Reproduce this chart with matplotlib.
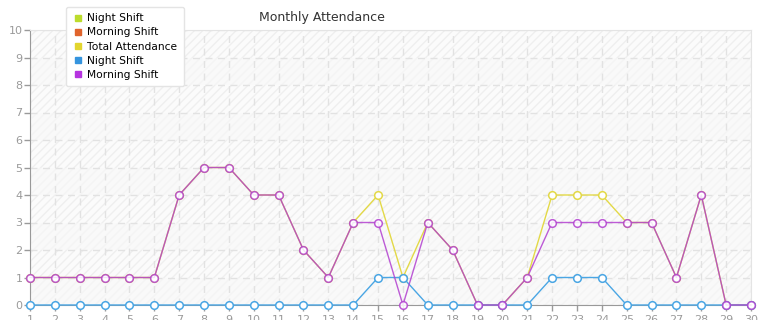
#!/usr/bin/env python3
"""Monthly attendance line chart (total / night / morning shift per day)."""

import matplotlib
matplotlib.use("Agg")
import matplotlib.pyplot as plt
from matplotlib.lines import Line2D

# Data
days = list(range(1, 31))
total_attendance = [1, 1, 1, 1, 1, 1, 4, 5, 5, 4, 4, 2, 1, 3, 4,
                    1, 3, 2, 0, 0, 1, 4, 4, 4, 3, 3, 1, 4, 0, 0]
night_shift = [0, 0, 0, 0, 0, 0, 0, 0, 0, 0, 0, 0, 0, 0, 1,
               1, 0, 0, 0, 0, 0, 1, 1, 1, 0, 0, 0, 0, 0, 0]
morning_shift = [1, 1, 1, 1, 1, 1, 4, 5, 5, 4, 4, 2, 1, 3, 3,
                 0, 3, 2, 0, 0, 1, 3, 3, 3, 3, 3, 1, 4, 0, 0]
y_ticks = list(range(0, 11))

legend_labels = ["Night Shift", "Morning Shift", "Total Attendance",
                 "Night Shift", "Morning Shift"]
legend_colors = ["#bcdc2c", "#e0642c", "#e2d52e", "#3594de", "#b634e0"]

YELLOW = "#e3d947"
BLUE = "#4aa6e4"
PURPLE = "#b23fd0"
GRID = "#e2e2e2"
TICK = "#9a9a9a"

W, H = 765, 320
fig = plt.figure(figsize=(W / 100, H / 100), dpi=100)
ax = fig.add_axes([30 / W, 1 - 305 / H, 721 / W, 275 / H])

ax.set_xlim(1, 30)
ax.set_ylim(0, 10)

# striped background bands
ax.set_facecolor("white")
for lo in y_ticks[:-1]:
    if lo % 2 == 1:
        ax.axhspan(lo, lo + 1, facecolor="#fbfbfb", edgecolor="#efefef",
                   hatch="////", linewidth=0, zorder=0)
    else:
        ax.axhspan(lo, lo + 1, facecolor="#f9f9f9", edgecolor="#f4f4f4",
                   hatch="////", linewidth=0, zorder=0)

ax.set_xticks(days)
ax.set_yticks(y_ticks)
ax.grid(True, color=GRID, linestyle=(0, (5, 4)), linewidth=1.0, zorder=1)

line_kw = dict(marker="o", markersize=5.5, markerfacecolor="white",
               markeredgewidth=1.1, linewidth=1.0, zorder=3, clip_on=False)
ax.plot(days, total_attendance, color=YELLOW, **line_kw)
ax.plot(days, night_shift, color=BLUE, **line_kw)
ax.plot(days, morning_shift, color=PURPLE, alpha=0.85, **line_kw)

for side in ["top", "right"]:
    ax.spines[side].set_color("#e4e4e4")
for side in ["left", "bottom"]:
    ax.spines[side].set_color("#999999")
ax.tick_params(colors=TICK, labelsize=8, length=4, width=1)
ax.tick_params(axis="y", pad=1.5)
ax.tick_params(axis="x", pad=3)

fig.text(322 / W, 1 - 17 / H, "Monthly Attendance", ha="center", va="center",
         fontsize=9, color="#333333")

handles = [Line2D([], [], marker="s", linestyle="none", markersize=5,
                  color=c) for c in legend_colors]
leg = fig.legend(handles, legend_labels, loc="upper left",
                 bbox_to_anchor=(66 / W, 1 - 7 / H), fontsize=7.7,
                 frameon=True, fancybox=True, shadow=False,
                 labelspacing=0.38, handletextpad=0.4, handlelength=1.0,
                 borderpad=0.6, borderaxespad=0)
frame = leg.get_frame()
frame.set_edgecolor("#e4e4e4")
frame.set_facecolor("white")
frame.set_alpha(1)

fig.savefig("out.png", dpi=100)
